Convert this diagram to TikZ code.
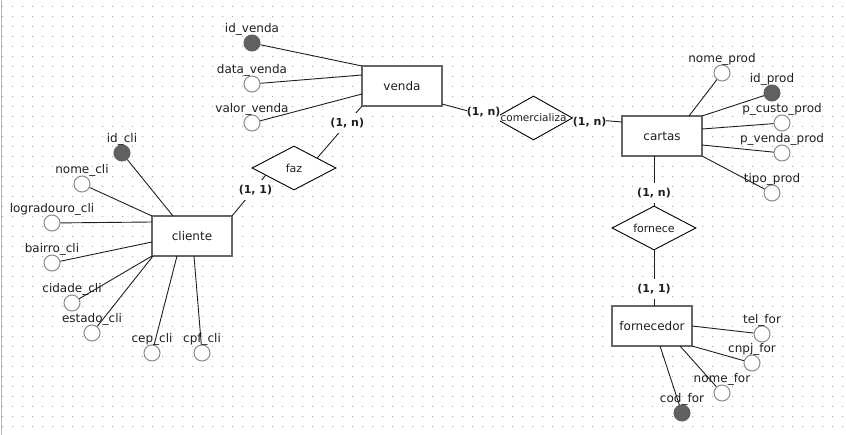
\documentclass[tikz,border=0pt]{standalone}
\usepackage{fontspec}
\setmainfont{DejaVu Sans}
\usetikzlibrary{calc, shapes.geometric}

\definecolor{boxgray}{HTML}{666666}
\definecolor{ringgray}{HTML}{8A8A8A}
\definecolor{keygray}{HTML}{606060}
\definecolor{dotgray}{HTML}{A8A8A8}
\definecolor{edgegray}{HTML}{B8B8B8}
\definecolor{inkgray}{HTML}{1E1E1E}

\tikzset{
    ent/.style={draw=boxgray, line width=2pt, fill=white, minimum width=80pt, minimum height=40pt,
        inner sep=0pt, outer sep=0pt, text=inkgray, font=\fontsize{12}{14}\selectfont},
    rel/.style={diamond, draw, line width=0.9pt, fill=white, minimum width=84pt, minimum height=44pt,
        inner sep=0pt, text=inkgray, font=\fontsize{11}{13}\selectfont},
    attr/.style={circle, draw=ringgray, line width=1pt, fill=white, minimum size=16pt, inner sep=0pt},
    keyattr/.style={attr, draw=keygray, fill=keygray},
    atxt/.style={inner sep=0pt, label distance=-1.5pt, text=inkgray, font=\fontsize{12}{14}\selectfont},
    card/.style={fill=white, inner xsep=0pt, inner ysep=5pt, text=inkgray,
        font=\bfseries\fontsize{11}{13}\selectfont},
    link/.style={line width=0.9pt, inkgray},
}

\begin{document}
\begin{tikzpicture}[x=1pt, y=-1pt]
    \useasboundingbox (0,0) rectangle (846,435);
    \fill[dotgray] \foreach \gx in {0,...,84} {\foreach \gy in {0,...,42} {(2+10*\gx, 6+10*\gy) rectangle ++(1,1)}};
    \draw[edgegray, line width=1pt] (1,0) -- (1,435);

    \node[ent] (venda) at (402,86) {venda};
    \node[ent] (cliente) at (192,236) {cliente};
    \node[ent] (cartas) at (662,136) {cartas};
    \node[ent] (fornecedor) at (652,326) {fornecedor};

    \node[rel] (faz) at (294,168) {\makebox[0pt]{faz}};
    \node[rel, minimum width=78pt, font=\fontsize{10.5}{12}\selectfont] (comercializa) at (533.5,118) {\makebox[0pt]{comercializa}};
    \node[rel] (fornece) at (654,228) {\makebox[0pt]{fornece}};

    \node[keyattr, label={[atxt]above:id\_venda}] (idv) at (252,43) {};
    \node[attr, label={[atxt]above:data\_venda}] (dtv) at (252,84) {};
    \node[attr, label={[atxt]above:valor\_venda}] (vlv) at (252,123) {};

    \node[keyattr, label={[atxt]above:id\_cli}] (idc) at (122,153) {};
    \node[attr, label={[atxt]above:nome\_cli}] (nmc) at (82,184) {};
    \node[attr, label={[atxt]above:logradouro\_cli}] (lgc) at (52,223) {};
    \node[attr, label={[atxt]above:bairro\_cli}] (brc) at (52,263) {};
    \node[attr, label={[atxt]above:cidade\_cli}] (cdc) at (72,303) {};
    \node[attr, label={[atxt]above:estado\_cli}] (esc) at (92,333) {};
    \node[attr, label={[atxt]above:cep\_cli}] (cpc) at (152,353) {};
    \node[attr, label={[atxt]above:cpf\_cli}] (cfc) at (202,353) {};

    \node[attr, label={[atxt]above:nome\_prod}] (nmp) at (722,73) {};
    \node[keyattr, label={[atxt]above:id\_prod}] (idp) at (772,93) {};
    \node[attr, label={[atxt]above:p\_custo\_prod}] (pcp) at (782,123) {};
    \node[attr, label={[atxt]above:p\_venda\_prod}] (pvp) at (782,153) {};
    \node[attr, label={[atxt]above:tipo\_prod}] (tpp) at (772,193) {};

    \node[attr, label={[atxt]above:tel\_for}] (tlf) at (762,334) {};
    \node[attr, label={[atxt]above:cnpj\_for}] (cnf) at (752,363) {};
    \node[attr, label={[atxt]above:nome\_for}] (nmf) at (722,393) {};
    \node[keyattr, label={[atxt]above:cod\_for}] (cdf) at (682,413) {};

    \draw[link] (idv) -- (venda.north west);
    \draw[link] (dtv) -- ([yshift=-9pt]venda.north west);
    \draw[link] (vlv) -- ([yshift=-8pt]venda.west);

    \draw[link] (idc) -- ([xshift=-19pt]cliente.north);
    \draw[link] (nmc) -- (cliente.north west);
    \draw[link] (lgc) -- ([yshift=-6pt]cliente.north west);
    \draw[link] (brc) -- ([yshift=-6pt]cliente.west);
    \draw[link] (cdc) -- (cliente.south west);
    \draw[link] (esc) -- ([xshift=1pt]cliente.south west);
    \draw[link] (cpc) -- ([xshift=-15pt]cliente.south);
    \draw[link] (cfc) -- ([xshift=2pt]cliente.south);

    \draw[link] (nmp) -- ([xshift=27pt]cartas.north);
    \draw[link] (idp) -- (cartas.north east);
    \draw[link] (pcp) -- ([yshift=-13pt]cartas.north east);
    \draw[link] (pvp) -- ([yshift=-9pt]cartas.east);
    \draw[link] (tpp) -- (cartas.south east);

    \draw[link] (tlf) -- (fornecedor.east);
    \draw[link] (cnf) -- (fornecedor.south east);
    \draw[link] (nmf) -- ([xshift=28pt]fornecedor.south);
    \draw[link] (cdf) -- ([xshift=8pt]fornecedor.south);

    \draw[link] (cliente.north east) -- node[card, pos=0.64, xshift=2pt] {(1, 1)} ($(faz.west)!0.33!(faz.south)$);
    \draw[link] ($(faz.north)!0.55!(faz.east)$) -- node[card, pos=0.67] {(1, n)} (venda.south west);
    \draw[link] ([yshift=2pt]venda.south east) -- node[card, pos=0.80, yshift=3pt] {(1, n)} (comercializa.west);
    \draw[link] (comercializa.east) -- node[card, pos=0.34, yshift=-2.5pt] {(1, n)} ([yshift=-6pt]cartas.north west);
    \draw[link] ([xshift=-8pt]cartas.south) -- node[card, pos=0.74] {(1, n)} (fornece.north);
    \draw[link] (fornece.south) -- node[card, pos=0.70] {(1, 1)} ([xshift=2pt]fornecedor.north);
\end{tikzpicture}
\end{document}
